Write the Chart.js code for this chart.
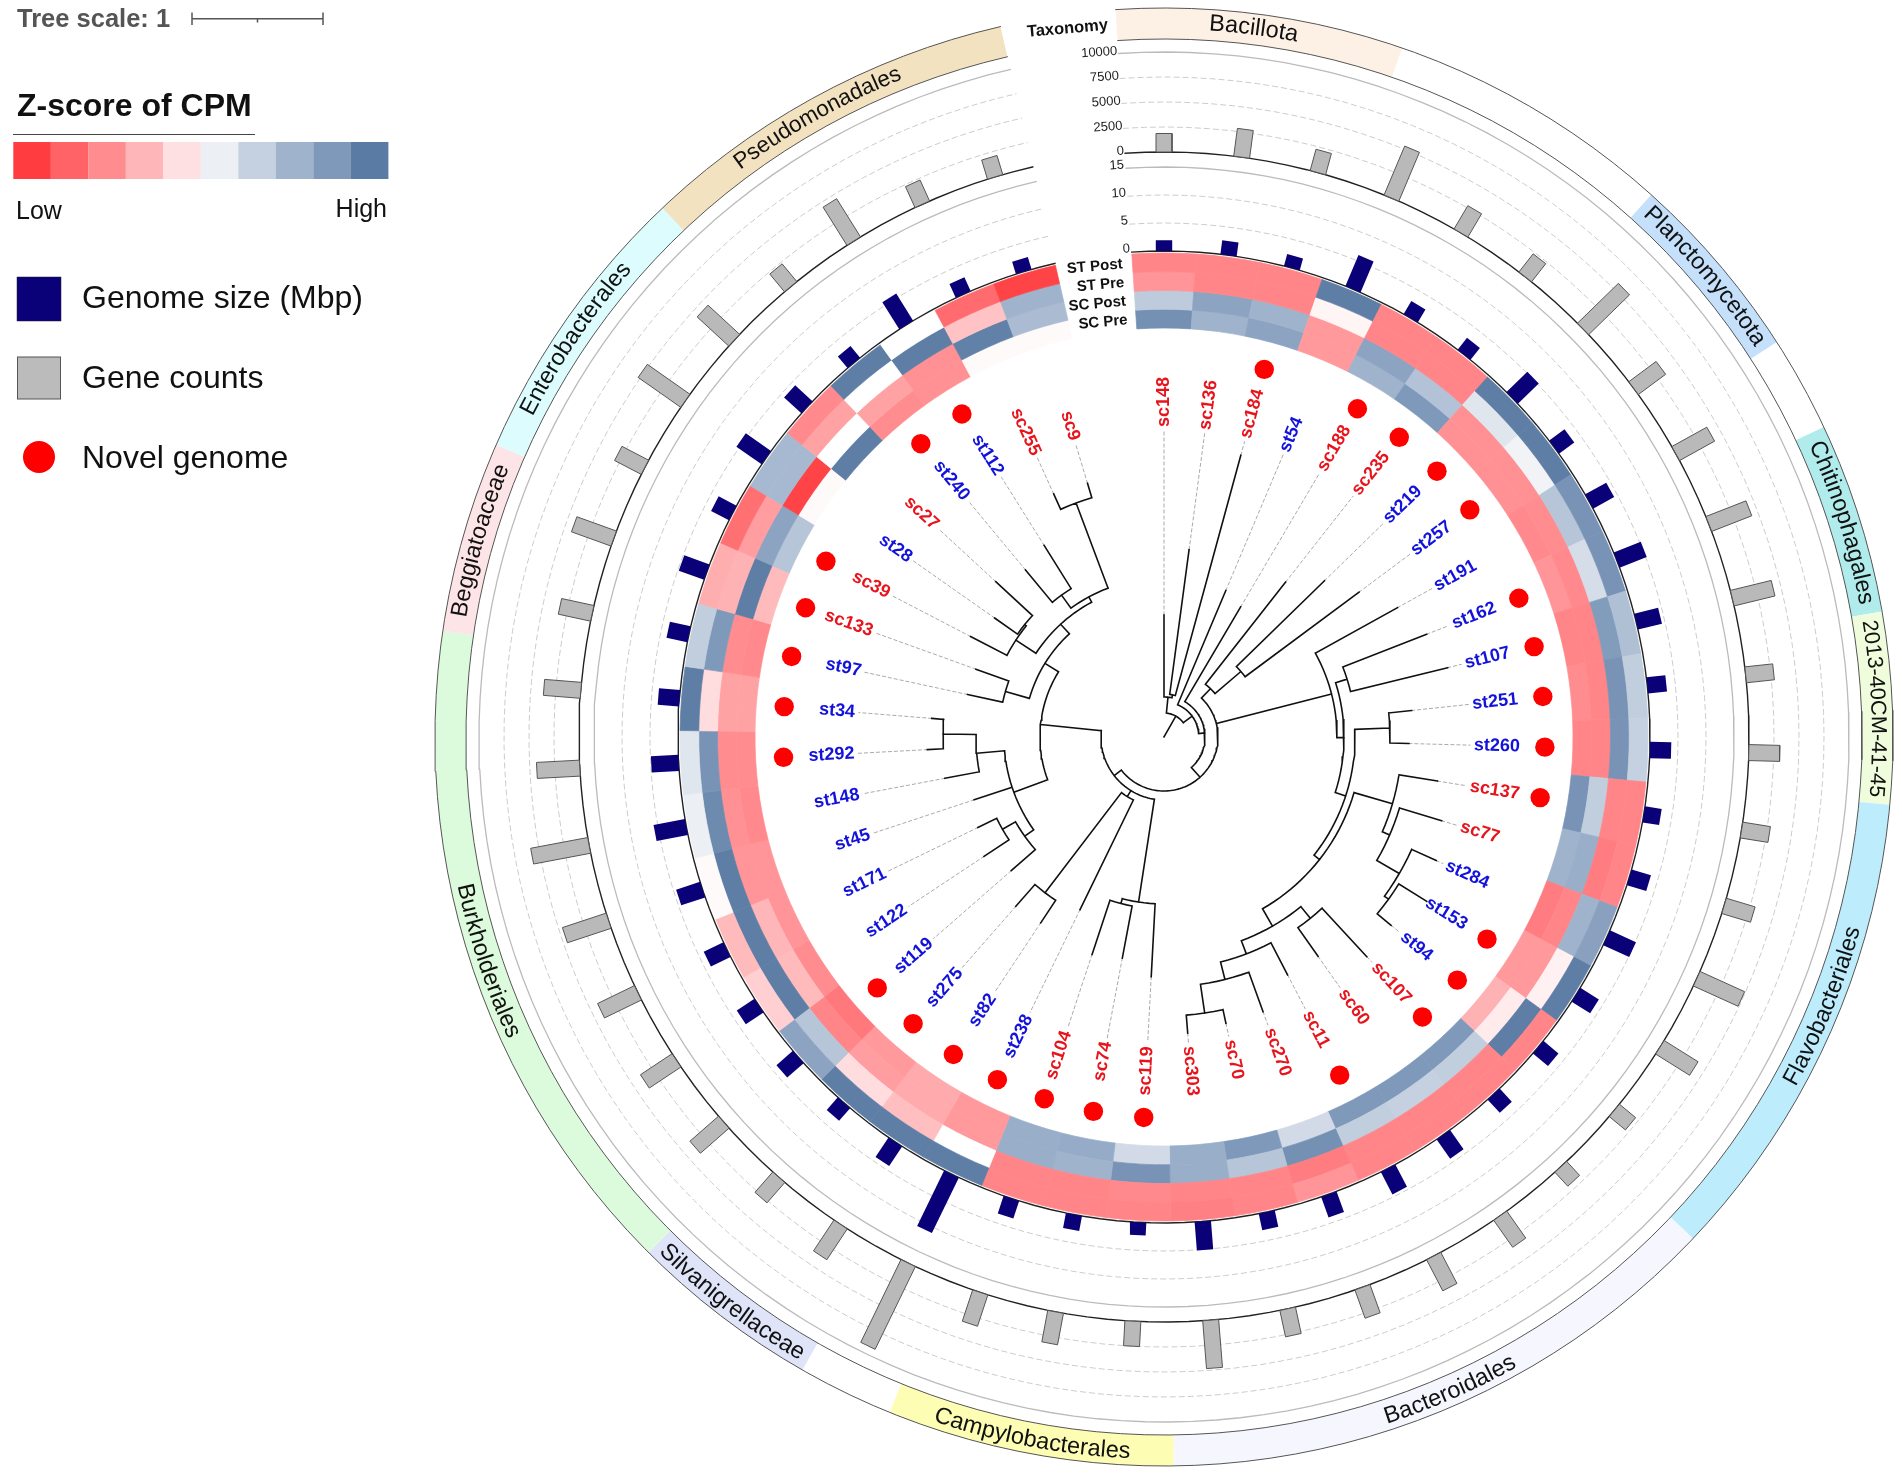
<!DOCTYPE html>
<html>
<head>
<meta charset="utf-8">
<title>Z-score of CPM tree</title>
<script src="https://cdn.jsdelivr.net/npm/chart.js@4"></script>
<style>
  html, body { margin: 0; padding: 0; background: #fff; }
  #page { position: relative; width: 1902px; height: 1476px; overflow: hidden; font-family: "Liberation Sans", Arial, sans-serif; }
  #page canvas, #page svg { position: absolute; }
  #rings { left: 435px; top: 8px; }
  #marks { left: 0; top: 0; }
  #overlay { left: 0; top: 0; }
</style>
</head>
<body>
<div id="page">
  <canvas id="rings" width="1458" height="1458"></canvas>
  <canvas id="marks" width="1902" height="1476"></canvas>
  <svg id="overlay" width="1902" height="1476" xmlns="http://www.w3.org/2000/svg">
    <g id="legend" font-family="Liberation Sans, Arial, sans-serif">
      <text x="17" y="27" font-size="25.5" font-weight="bold" fill="#555">Tree scale: 1</text>
      <path d="M192 12.5V25M192 18.7H323M323 12.5V25M257.5 18.7V22.5" stroke="#555" stroke-width="1.5" fill="none"/>
      <text x="17" y="116" font-size="32" font-weight="bold" fill="#111">Z-score of CPM</text>
      <path d="M13 134.5H255" stroke="#444" stroke-width="1"/>
      <g id="colorbar"></g>
      <text x="16" y="219" font-size="25" fill="#111">Low</text>
      <text x="387" y="217" font-size="25" fill="#111" text-anchor="end">High</text>
      <rect x="17" y="277" width="44" height="44" fill="#0a0078" stroke="#223" stroke-width="0.5"/>
      <text x="82" y="308" font-size="32" fill="#111">Genome size (Mbp)</text>
      <rect x="17.5" y="357" width="43" height="42" fill="#bbb" stroke="#555" stroke-width="1"/>
      <text x="82" y="388" font-size="32" fill="#111">Gene counts</text>
      <circle cx="39" cy="457" r="16" fill="#f00"/>
      <text x="82" y="468" font-size="32" fill="#111">Novel genome</text>
    </g>
    <g id="taxonLabels"></g>
  </svg>
</div>

<script>
// Leaves, clockwise from the top
const leafNames = ['sc148','sc136','sc184','st54','sc188','sc235','st219','st257','st191','st162','st107','st251','st260','sc137','sc77','st284','st153','st94','sc107','sc60','sc11','sc270','sc70','sc303','sc119','sc74','sc104','st238','st82','st275','st119','st122','st171','st45','st148','st292','st34','st97','sc133','sc39','st28','sc27','st240','st112','sc255','sc9'];

// Z-score colour level per leaf (0 = Low ... 9 = High)
const stPost = [1.8,1.8,1.8,8.9,1.8,1.8,8.9,8.9,8.2,8.2,6.6,6.1,6.0,1.8,1.8,7.7,8.9,1.8,1.8,1.8,1.8,2.2,1.8,1.7,1.8,1.8,1.8,8.9,8.9,8.9,7.6,3.6,3.1,4.5,5.0,5.3,8.9,6.1,2.8,1.3,6.8,1.9,8.9,4.6,1.2,0.2];
const stPre  = [2.2,1.8,1.8,4.4,1.8,1.8,5.3,4.9,6.4,5.6,7.9,8.2,8.2,1.8,1.6,7.0,4.3,8.9,1.8,1.8,1.8,1.6,1.8,1.8,1.9,1.8,1.8,4.6,3.2,3.9,6.4,8.9,8.9,8.9,8.5,8.2,3.9,8.0,2.9,2.4,6.8,2.5,4.6,8.9,3.3,7.0];
const scPost = [6.2,7.6,7.0,2.3,7.6,6.5,2.1,2.1,2.0,1.9,1.8,1.8,1.8,6.1,7.2,1.8,2.3,4.2,6.1,6.0,6.1,8.3,6.4,7.2,8.2,7.0,7.2,2.3,2.7,2.4,1.8,3.1,3.0,2.2,2.1,2.0,2.5,2.0,8.9,7.6,0.2,4.6,2.5,2.1,8.8,6.7];
const scPre  = [8.3,7.0,7.6,2.3,7.0,8.0,2.1,2.1,1.9,2.2,1.8,2.0,1.8,8.2,7.0,1.6,2.3,2.9,8.0,8.0,8.0,5.7,8.0,7.2,5.7,7.3,7.2,2.3,2.7,2.3,1.5,2.0,2.2,2.2,1.9,2.0,2.5,1.9,3.1,6.4,4.5,8.9,2.0,2.1,4.5,4.5];
const zColors = ['#ff3c3f','#ff6367','#ff8d90','#ffb6b8','#ffe0e2','#eceff4','#c5d1e0','#a0b3cc','#7f99ba','#5a7ba4'];

// Radial bars
const genomeSize = [1.9,2.5,2.2,6.0,2.7,2.7,5.2,3.4,4.3,5.2,4.4,3.4,3.8,3.0,3.6,5.1,3.9,3.5,3.2,4.2,4.5,3.9,3.0,5.1,2.3,2.7,3.3,11,4.2,3.0,3.9,3.8,3.9,4.5,5.7,4.9,3.8,3.8,4.8,3.6,5.5,4.2,2.7,5.7,2.7,2.3];
const geneCounts = [1850,2800,2200,5300,2700,2300,5700,3400,4000,4300,4200,2800,3100,2800,3000,4900,4000,2100,1900,3300,3500,3000,2700,4800,2500,3200,3300,9200,3700,2700,3800,3800,4100,4600,5800,4300,3700,3300,4200,3000,5200,4300,2300,4500,2300,2000];
const genomeTicks = [0,5,10,15];
const geneTicks = [0,2500,5000,7500,10000];

// Leaves flagged as novel genomes
const novelLeaves = [2,4,5,6,7,9,10,11,12,13,16,17,18,20,24,25,26,27,28,29,30,35,36,37,38,39,42,43];

// Taxonomy ring: leaf counts, names ('' = no clade), colours
const taxonCounts = [3,3,2,1,2,2,5,6,3,1,2,7,2,3,4];
const taxonNames  = ['Bacillota','','Planctomycetota','','Chitinophagales','2013-40CM-41-45','Flavobacteriales','Bacteroidales','Campylobacterales','','Silvanigrellaceae','Burkholderiales','Beggiatoaceae','Enterobacterales','Pseudomonadales'];
const taxonColors = ['#fdf0e4','#ffffff','#c4e0fa','#ffffff','#b0ecec','#f0fddc','#bdecfd','#f5f6fe','#fdfdb4','#ffffff','#e0e4f8','#dcfadc','#fde4e6','#dcfcfd','#f2e2bf'];
const taxonInward = [false,false,false,false,false,false,true,true,true,false,true,true,false,false,false];

// Tree: tip radius per leaf, then nodes as [radius, ...children] (a number is a leaf)
const tipRadius = [122,189,292,159,151,197,224,243,267,282,292,249,245,277,290,299,310,295,299,268,268,292,293,297,240,225,229,192,223,225,203,216,207,200,223,237,233,201,200,218,207,229,217,226,267,265];
const cladeTop = [67, 5, [101, 6, 7]];
const cladeRight = [173, 8, [180, [192, 9, 10], [191, [226, 11, 12], [198, [238, 13, [246, 14, [272, 15, [277, 16, 17]]]], [218, [233, 18, 19], [232, 20, [250, 21, [279, 22, 23]]]]]]]];
const cladeBottom = [167, 24, [172, 25, 26]];
const cladeMid = [70, 27, [196, 28, 29]];
const cladeLeft = [124, [160, [188, [221, 36, 35], 34], 33, [171, 30, [186, 31, 32]]], [140, [165, 38, 37], [153, [177, 39, [179, 40, 41]], [159, [175, 42, 43], [250, 44, 45]]]]];
const treeRoot = [24, [40, 0, [43, 1, 2]], [35, 3, [41, 4, [54, cladeTop, cladeRight, [63, cladeBottom, cladeMid, cladeLeft]]]]];

// Layout
const centerX = 1164, centerY = 737;
const ringOuter = 729, ringInner = 698;
const heatOuter = 484, heatInner = 409;
const genomeBase = 486, genomePerMbp = 5.6;
const geneBase = 585, genePerUnit = 0.01;
const labelRadius = 310, dotRadius = 381, leaderEnd = 306;
const gapLeaves = 1.2;
const leafStep = 360 / (leafNames.length + gapLeaves);
const startAngle = -leafStep / 2;
const endAngle = (leafNames.length - 0.5) * leafStep;
// clade labels that sit off-centre or a little smaller in the original
const taxonLabelShift = { 'Flavobacteriales': -2.2, 'Pseudomonadales': -1, 'Enterobacterales': -1, 'Bacillota': -0.4 };
const taxonLabelSize = { 'Pseudomonadales': 22.5, '2013-40CM-41-45': 21.7 };

const rad = d => d * Math.PI / 180;
const polar = (r, a) => ({ x: r * Math.sin(rad(a)), y: r * Math.cos(rad(a)) });
const GAP = { x: NaN, y: NaN };
const leafAngle = i => i * leafStep;

function arcPoints(r, a0, a1) {
  const pts = [];
  const n = Math.max(1, Math.ceil(Math.abs(a1 - a0) / 2));
  for (let i = 0; i <= n; i++) pts.push(polar(r, a0 + (a1 - a0) * i / n));
  return pts;
}

// the heatmap passes through white between the two pale legend steps
function zColor(level) {
  const c = s => [1, 3, 5].map(k => parseInt(s.substr(k, 2), 16));
  let a, b, t;
  if (level > 4 && level < 5) {
    if (level < 4.6) { a = c(zColors[4]); b = [255, 255, 255]; t = (level - 4) / 0.6; }
    else { a = [255, 255, 255]; b = c(zColors[5]); t = (level - 4.6) / 0.4; }
  } else {
    const lo = Math.min(8, Math.floor(level));
    a = c(zColors[lo]); b = c(zColors[lo + 1]); t = level - lo;
  }
  return `rgb(${a.map((v, k) => Math.round(v + (b[k] - v) * t)).join(',')})`;
}

// Heat + taxonomy rings
const heatRow = row => ({
  data: [...row.map(() => 1), gapLeaves],
  backgroundColor: [...row.map(zColor), 'rgba(0,0,0,0)'],
  borderColor: [...row.map(zColor), 'rgba(0,0,0,0)'],
  borderWidth: 0.7,
  weight: (heatOuter - heatInner) / 4
});

new Chart(document.getElementById('rings'), {
  type: 'doughnut',
  data: {
    datasets: [
      { data: [...taxonCounts, gapLeaves], backgroundColor: [...taxonColors, 'rgba(0,0,0,0)'], borderWidth: 0, weight: ringOuter - ringInner },
      { data: [1], backgroundColor: ['rgba(0,0,0,0)'], borderWidth: 0, weight: ringInner - heatOuter },
      heatRow(stPost), heatRow(stPre), heatRow(scPost), heatRow(scPre)
    ]
  },
  options: {
    responsive: false,
    animation: false,
    events: [],
    rotation: startAngle,
    cutout: (heatInner / ringOuter * 100) + '%',
    layout: { padding: 0, autoPadding: false },
    plugins: { legend: { display: false }, tooltip: { enabled: false } }
  }
});

// Tree segments
const treeLines = [];
const leaderLines = [];
function layoutNode(node, parentR) {
  if (typeof node === 'number') {
    const a = leafAngle(node);
    treeLines.push(polar(parentR, a), polar(tipRadius[node], a), GAP);
    if (tipRadius[node] < leaderEnd) leaderLines.push(polar(tipRadius[node], a), polar(leaderEnd, a), GAP);
    return a;
  }
  const r = node[0];
  const angles = node.slice(1).map(kid => layoutNode(kid, r));
  const lo = Math.min(...angles), hi = Math.max(...angles);
  treeLines.push(...arcPoints(r, lo, hi), GAP);
  const mid = (lo + hi) / 2;
  treeLines.push(polar(parentR, mid), polar(r, mid), GAP);
  return mid;
}
layoutNode(treeRoot, 0);

// Bars as closed quads so the grey ones keep their outline
function barDataset(base, r, a, fill, stroke, halfWidth) {
  const u = polar(1, a), t = { x: u.y, y: -u.x };
  const c = (rr, s) => ({ x: u.x * rr + t.x * s * halfWidth, y: u.y * rr + t.y * s * halfWidth });
  return {
    data: [c(base, -1), c(r, -1), c(r, 1), c(base, 1), c(base, -1)],
    borderColor: stroke, borderWidth: stroke === fill ? 0 : 1,
    backgroundColor: fill, fill: 'shape', showLine: true, pointRadius: 0, tension: 0
  };
}

const lineSet = (data, color, width, dash) => ({
  data, borderColor: color, borderWidth: width, borderDash: dash || [],
  showLine: true, pointRadius: 0, fill: false, tension: 0, spanGaps: false, borderCapStyle: 'square'
});

const dotSet = {
  data: novelLeaves.map(i => polar(dotRadius, leafAngle(i))),
  pointRadius: 9.7, pointBackgroundColor: '#ff0000', pointBorderWidth: 0, showLine: false
};

const gridSets = [];
genomeTicks.forEach((v, i) => {
  const r = genomeBase + v * genomePerMbp;
  gridSets.push(i === 0 ? lineSet(arcPoints(r, startAngle, endAngle), '#222', 1.4)
    : i === genomeTicks.length - 1 ? lineSet(arcPoints(r, startAngle, endAngle), '#bbb', 1.3)
    : lineSet(arcPoints(r, startAngle, endAngle), '#ccc', 1, [5, 4]));
});
geneTicks.forEach((v, i) => {
  const r = geneBase + v * genePerUnit;
  gridSets.push(i === 0 ? lineSet(arcPoints(r, startAngle, endAngle), '#222', 1.4)
    : i === geneTicks.length - 1 ? lineSet(arcPoints(r, startAngle, endAngle), '#bbb', 1.3)
    : lineSet(arcPoints(r, startAngle, endAngle), '#ccc', 1, [5, 4]));
});
gridSets.push(lineSet(arcPoints(ringOuter, startAngle, endAngle), '#555', 1));
gridSets.push(lineSet(arcPoints(ringInner, startAngle, endAngle), '#555', 1));

const genomeBars = genomeSize.map((v, i) => barDataset(genomeBase, genomeBase + v * genomePerMbp, leafAngle(i), '#0a0078', '#0a0078', 8.2));
const geneBars = geneCounts.map((v, i) => barDataset(geneBase, geneBase + v * genePerUnit, leafAngle(i), '#b9b9b9', '#555', 8));

// Text drawn in data coordinates
const radialText = {
  id: 'radialText',
  afterDatasetsDraw(chart) {
    const { ctx, scales: { x, y } } = chart;
    const put = (text, r, a, rot, align, font, color) => {
      const p = polar(r, a);
      ctx.save();
      ctx.translate(x.getPixelForValue(p.x), y.getPixelForValue(p.y));
      ctx.rotate(rad(rot));
      ctx.font = font;
      ctx.fillStyle = color;
      ctx.textAlign = align;
      ctx.textBaseline = 'middle';
      ctx.fillText(text, 0, 0);
      ctx.restore();
    };
    const boldLabel = 'bold 18px "Liberation Sans"';
    leafNames.forEach((name, i) => {
      const a = leafAngle(i);
      const color = name.startsWith('sc') ? '#e8141c' : '#1212dc';
      if (a < 180) put(name, labelRadius, a, a - 90, 'left', boldLabel, color);
      else put(name, labelRadius, a, a + 90, 'right', boldLabel, color);
    });
    const tickFont = '13px "Liberation Sans"';
    genomeTicks.forEach(v => put(String(v), genomeBase + v * genomePerMbp + 3.5, -4, -4, 'right', tickFont, '#222'));
    geneTicks.forEach(v => put(String(v), geneBase + v * genePerUnit + 2.5, -3.9, -4, 'right', tickFont, '#222'));
    ['ST Post', 'ST Pre', 'SC Post', 'SC Pre'].forEach((name, k) => {
      const r = heatOuter - (k + 0.5) * (heatOuter - heatInner) / 4;
      put(name, r, -5, -5, 'right', 'bold 15px "Liberation Sans"', '#111');
    });
    put('Taxonomy', 714, -4.5, -5, 'right', 'bold 16.5px "Liberation Sans"', '#111');
  }
};

new Chart(document.getElementById('marks'), {
  type: 'scatter',
  data: {
    datasets: [
      dotSet,
      lineSet(treeLines, '#111', 1.6),
      lineSet(leaderLines, '#aaa', 1, [3, 3]),
      ...genomeBars,
      ...geneBars,
      ...gridSets
    ]
  },
  options: {
    responsive: false,
    animation: false,
    events: [],
    layout: { padding: 0, autoPadding: false },
    scales: {
      x: { type: 'linear', display: false, min: -centerX, max: 1902 - centerX },
      y: { type: 'linear', display: false, min: centerY - 1476, max: centerY }
    },
    plugins: { legend: { display: false }, tooltip: { enabled: false } }
  },
  plugins: [radialText]
});

// SVG bits: colour bar and the clade names following the ring
const svgNS = 'http://www.w3.org/2000/svg';
zColors.forEach((c, i) => {
  const rect = document.createElementNS(svgNS, 'rect');
  rect.setAttribute('x', 13.3 + i * 37.5);
  rect.setAttribute('y', 142);
  rect.setAttribute('width', 37.6);
  rect.setAttribute('height', 37);
  rect.setAttribute('fill', c);
  document.getElementById('colorbar').appendChild(rect);
});

let leafCursor = 0;
taxonNames.forEach((name, i) => {
  const shift = taxonLabelShift[name] || 0;
  const a0 = startAngle + leafCursor * leafStep + shift;
  leafCursor += taxonCounts[i];
  const a1 = startAngle + leafCursor * leafStep + shift;
  if (!name) return;
  const inward = taxonInward[i];
  const r = inward ? 722 : 708;
  const from = inward ? a1 : a0, to = inward ? a0 : a1;
  const sx = polar(r, from), ex = polar(r, to);
  const path = document.createElementNS(svgNS, 'path');
  path.setAttribute('id', 'taxon' + i);
  path.setAttribute('fill', 'none');
  path.setAttribute('d', `M${centerX + sx.x} ${centerY - sx.y}A${r} ${r} 0 0 ${inward ? 0 : 1} ${centerX + ex.x} ${centerY - ex.y}`);
  document.getElementById('taxonLabels').appendChild(path);
  const text = document.createElementNS(svgNS, 'text');
  text.setAttribute('font-family', 'Liberation Sans, Arial, sans-serif');
  text.setAttribute('font-size', taxonLabelSize[name] || 23.5);
  text.setAttribute('fill', '#111');
  text.setAttribute('text-anchor', 'middle');
  const tp = document.createElementNS(svgNS, 'textPath');
  tp.setAttribute('href', '#taxon' + i);
  tp.setAttribute('startOffset', '50%');
  tp.textContent = name;
  text.appendChild(tp);
  document.getElementById('taxonLabels').appendChild(text);
});
</script>
</body>
</html>
